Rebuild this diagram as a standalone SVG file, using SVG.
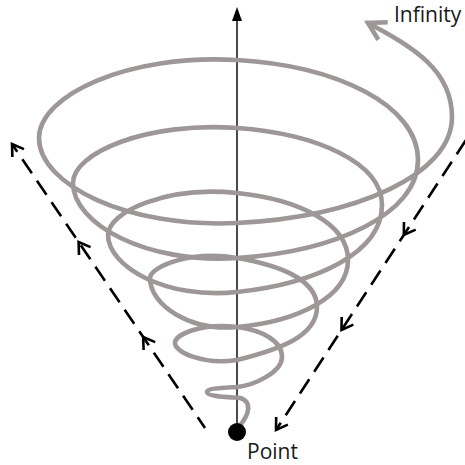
<svg xmlns="http://www.w3.org/2000/svg" width="465" height="465" viewBox="0 0 465 465">
<style>
.spiral{fill:none;stroke:#9d9797;stroke-width:4.6;stroke-linecap:round;stroke-linejoin:round}
.dash{fill:none;stroke:#000;stroke-width:2.6;stroke-dasharray:17 9}
.axis{fill:none;stroke:#4a4a4a;stroke-width:2}
.lbl{font-family:"Open Sans","Liberation Sans",sans-serif;font-size:21px;fill:#1a1a1a}
</style>
<defs>
<marker id="chev" markerUnits="userSpaceOnUse" orient="auto" overflow="visible" markerWidth="20" markerHeight="20" refX="0" refY="0">
<path d="M-11,-7 L0,0 L-11,7" fill="none" stroke="#000" stroke-width="2.6"/>
</marker>
<marker id="spiralHead" markerUnits="userSpaceOnUse" orient="auto-start-reverse" overflow="visible" markerWidth="30" markerHeight="30" refX="0" refY="0">
<path d="M-17,-10 L0,0 L-17,10" fill="none" stroke="#9d9797" stroke-width="4.6"/>
</marker>
</defs>
<rect width="465" height="465" fill="#fff"/>
<g id="connectors">
<path id="left-dashed" class="dash" style="stroke-dashoffset:4" d="M205,428 L143.2,337 L78.6,242 L12,144" marker-mid="url(#chev)" marker-end="url(#chev)"/>
<path id="right-dashed" class="dash" d="M466,140 L403.8,235 L341.5,330 L276,430" marker-mid="url(#chev)" marker-end="url(#chev)"/>
<line id="axis" class="axis" x1="237" y1="432" x2="237" y2="18"/>
<polygon points="237,7 232,21 242,21" fill="#000"/>
</g>
<g id="spiral">
<path class="spiral" marker-start="url(#spiralHead)" d="M368,23 C413,47 452,70 452,117 C452,175.3 355,217 237,223 C128,228.4 39,184.8 39,138 C39,95.1 128,53.7 237,60 C336.6,65.8 418,105 418,160 C418,213.9 336.6,251.3 237,258 C146.8,264 73,224.3 73,183 C73,152.7 146.8,121.6 237,128 C316.8,133.7 382,162.6 382,205 C382,252.9 316.8,283.2 237,292 C166,299.8 108,266.4 108,235 C108,211.9 166.4,185.7 237,193 C298,199.3 348,223.1 348,260 C348,296.9 297.8,321.5 237,327 C189.3,331.3 150,305 150,278 C150,267 189.8,250 237,258 C280.4,265.4 317,280 317,307 C317,336.2 279.7,349.3 237,360 C203.4,365 175,352.4 175,343 C175,334.2 203.2,322.6 237,327 C261.6,330.2 282,340.5 282,357 C282,372 255,385 237,387 C222,388 207,388.5 207,392 C207,396.5 228,397 240,398 C246,399.5 249,404 248,410 C247,418 241,424 238,428"/>
</g>
<g id="point">
<circle cx="237" cy="432" r="9" fill="#000"/>
<text class="lbl" x="247" y="459">Point</text>
</g>
<g id="infinity">
<text class="lbl" x="394" y="22">Infinity</text>
</g>
</svg>
